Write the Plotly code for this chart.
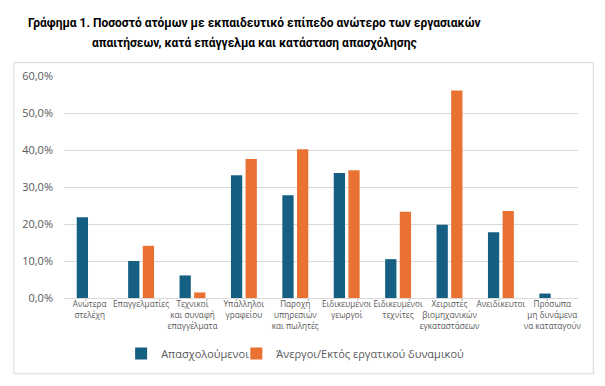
import plotly.graph_objects as go

categories = [
    "Ανώτερα<br>στελέχη",
    "Επαγγελματίες",
    "Τεχνικοί<br>και συναφή<br>επαγγέλματα",
    "Υπάλληλοι<br>γραφείου",
    "Παροχή<br>υπηρεσιών<br>και πωλητές",
    "Ειδικευμένοι<br>γεωργοί",
    "Ειδικευμένοι<br>τεχνίτες",
    "Χειριστές<br>βιομηχανικών<br>εγκαταστάσεων",
    "Ανειδίκευτοι",
    "Πρόσωπα<br>μη δυνάμενα<br>να καταταγούν",
]
employed = [21.8, 10.0, 6.1, 33.2, 27.8, 33.8, 10.5, 19.8, 17.8, 1.2]
unemployed = [None, 14.1, 1.5, 37.6, 40.2, 34.5, 23.3, 56.1, 23.5, None]
series_names = ["Απασχολούμενοι", "Άνεργοι/Εκτός εργατικού δυναμικού"]
y_ticks = [0, 10, 20, 30, 40, 50, 60]
y_ticktext = ["0,0%", "10,0%", "20,0%", "30,0%", "40,0%", "50,0%", "60,0%"]
title_lines = [
    "Γράφημα 1. Ποσοστό ατόμων με εκπαιδευτικό επίπεδο ανώτερο των εργασιακών",
    "απαιτήσεων, κατά επάγγελμα και κατάσταση απασχόλησης",
]

BLUE = "#156082"
ORANGE = "#E97132"
GRAY = "#595959"
FONT = "Open Sans, Noto Sans, sans-serif"
TFONT = "Roboto, Noto Sans, sans-serif"

OFF = 8  # page body margin
W, H = 605 - OFF, 386 - OFF
L, R, T, B = 63.5 - OFF, 605 - 578, 75.7 - OFF, 386 - 298.3
pw = W - L - R
ph = H - T - B

def px(x):
    return (x - OFF - L) / pw

def py(y):
    return (H - B - (y - OFF)) / ph

fig = go.Figure()
fig.add_trace(go.Bar(x=categories, y=employed, name=series_names[0], legend="legend",
                     marker=dict(color=BLUE, line=dict(width=0))))
fig.add_trace(go.Bar(x=categories, y=unemployed, name=series_names[1], legend="legend2",
                     marker=dict(color=ORANGE, line=dict(width=0))))

annotations = []
for i, line in enumerate(title_lines):
    annotations.append(dict(
        text="<b>" + line + "</b>", xref="paper", yref="paper",
        x=px(254), y=py(23 + 20 * i), xanchor="center", yanchor="middle",
        showarrow=False, font=dict(family=TFONT, size=12, color="#000000")))

legend_common = dict(orientation="h", xanchor="left", yanchor="middle",
                     font=dict(size=11, color=GRAY), bgcolor="rgba(0,0,0,0)")

fig.update_layout(
    width=W, height=H,
    margin=dict(l=L, r=R, t=T, b=B, autoexpand=False),
    paper_bgcolor="white", plot_bgcolor="white",
    font=dict(family=FONT, color=GRAY),
    barmode="group", bargap=0.43, bargroupgap=0.23,
    xaxis=dict(showgrid=False, tickfont=dict(size=8.2, color=GRAY), ticks="",
               showline=False, tickangle=0),
    yaxis=dict(range=[0, 60], tickvals=y_ticks, ticktext=y_ticktext,
               showgrid=True, gridcolor="#D9D9D9", gridwidth=1,
               zeroline=True, zerolinecolor="#D9D9D9", zerolinewidth=1,
               tickfont=dict(size=11, color=GRAY), ticklabelstandoff=10),
    legend=dict(x=px(120.7), y=py(354), **legend_common),
    legend2=dict(x=px(236), y=py(354), **legend_common),
    showlegend=True,
    annotations=annotations,
    shapes=[dict(type="rect", xref="paper", yref="paper",
                 x0=px(13.3), x1=px(593.3), y0=py(374.3), y1=py(62.3),
                 line=dict(color="#D9D9D9", width=1), layer="below")],
)

fig.write_html("out.html")
